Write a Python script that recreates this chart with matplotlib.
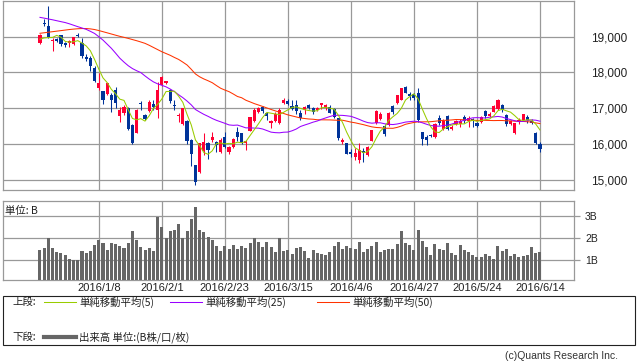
import numpy as np
import matplotlib
matplotlib.use('Agg')
import matplotlib.pyplot as plt
from matplotlib.patches import Rectangle

plt.rcParams['font.family'] = ['Noto Sans CJK JP', 'DejaVu Sans']

# trading days shown, per month
month_days = [
    ('2015/12', [16, 17, 18, 21, 22, 24, 25, 28, 29, 30]),
    ('2016/1', [4, 5, 6, 7, 8, 12, 13, 14, 15, 18, 19, 20, 21, 22, 25, 26, 27, 28, 29]),
    ('2016/2', [1, 2, 3, 4, 5, 8, 9, 10, 12, 15, 16, 17, 18, 19, 22, 23, 24, 25, 26, 29]),
    ('2016/3', [1, 2, 3, 4, 7, 8, 9, 10, 11, 14, 15, 16, 17, 18, 22, 23, 24, 25, 28, 29, 30, 31]),
    ('2016/4', [1, 4, 5, 6, 7, 8, 11, 12, 13, 14, 15, 18, 19, 20, 21, 22, 25, 26, 27, 28]),
    ('2016/5', [2, 6, 9, 10, 11, 12, 13, 16, 17, 18, 19, 20, 23, 24, 25, 26, 27, 30, 31]),
    ('2016/6', [1, 2, 3, 6, 7, 8, 9, 10, 13, 14]),
]
dates = [m + '/' + str(d) for m, days in month_days for d in days]

opens = [18830, 19390, 19300, 18880, 18930, 19050, 18830, 18810, 18800, 19060,
         18818, 18420, 18410, 18130, 17562, 17470, 17390, 17370, 17510, 16784,
         16860, 17017, 16520, 16319, 17160, 16810, 16930, 17110, 16960, 17650,
         17695, 17510, 17090, 16790, 16560, 16650, 16110, 15420, 15230, 15810,
         16020, 16110, 16060, 15790, 16200, 15790, 15930, 16330, 16300, 16020,
         16375, 16650, 16900, 17030, 16870, 16580, 16650, 16600, 17140, 17200,
         17060, 17090, 16880, 16950, 17090, 17020, 16950, 17090, 17010, 17050,
         16980, 16720, 16060, 16030, 15790, 15650, 15560, 15800, 15700, 16100,
         16580, 16690, 16500, 16530, 17060, 17140, 17240, 17590, 17400, 17390,
         17420, 16330, 16210, 16250, 16190, 16720, 16430, 16780, 16410, 16560,
         16560, 16760, 16640, 16700, 16600, 16620, 16930, 16790, 16905, 16970,
         17090, 16810, 16560, 16320, 16650, 16680, 16760, 16650, 16320, 16000]
highs = [19070, 19490, 19869, 18950, 18960, 19060, 18860, 18900, 18990, 19110,
         18951, 18510, 18470, 18170, 17975, 17480, 17720, 17420, 17600, 17050,
         17090, 17030, 16560, 16990, 17200, 16830, 17230, 17230, 17740, 17905,
         17760, 17540, 17230, 16870, 17010, 16680, 16140, 15430, 16030, 16300,
         16070, 16330, 16100, 16160, 16330, 15960, 16180, 16470, 16310, 16110,
         16760, 17000, 17040, 17060, 16900, 16680, 16900, 17000, 17290, 17250,
         17230, 17230, 16950, 17060, 17120, 17040, 17050, 17160, 17120, 17080,
         17000, 16740, 16180, 16040, 15860, 15900, 16030, 15900, 15940, 16390,
         16940, 16890, 16570, 16890, 17100, 17370, 17580, 17610, 17450, 17420,
         17570, 16350, 16260, 16290, 16600, 16820, 16700, 16810, 16530, 16670,
         16700, 16810, 16780, 16740, 16620, 16790, 16960, 16900, 17080, 17250,
         17110, 16830, 16680, 16600, 16720, 16850, 16800, 16700, 16340, 16050]
lows = [18800, 19290, 18950, 18610, 18850, 18740, 18700, 18720, 18770, 18990,
        18394, 18330, 18050, 17740, 17509, 17110, 17380, 16905, 17000, 16630,
        16810, 16390, 15990, 16300, 16950, 16680, 16900, 16960, 16720, 17620,
        17690, 17150, 16960, 16620, 16540, 16000, 15400, 14865, 15200, 15700,
        15580, 16060, 15770, 15760, 15880, 15720, 15880, 16100, 16000, 15830,
        16370, 16620, 16880, 16860, 16680, 16460, 16630, 16570, 17130, 17080,
        16950, 16850, 16660, 16850, 16980, 16850, 16920, 16990, 16940, 16860,
        16740, 16110, 16000, 15710, 15640, 15550, 15460, 15510, 15680, 16090,
        16560, 16660, 16240, 16510, 16850, 17120, 17220, 17420, 17240, 17230,
        16620, 15980, 15980, 16190, 16160, 16530, 16400, 16380, 16380, 16530,
        16480, 16600, 16470, 16480, 16480, 16600, 16719, 16750, 16890, 16960,
        16900, 16500, 16540, 16280, 16560, 16660, 16600, 16560, 15990, 15780]
closes = [19049, 19353, 18986, 18916, 18886, 18789, 18769, 18873, 18982, 19033,
          18450, 18374, 18191, 17767, 17697, 17218, 17715, 17240, 17147, 16955,
          17048, 16416, 16017, 16958, 17110, 16708, 17163, 17041, 17518, 17865,
          17750, 17191, 17067, 16819, 17004, 16085, 15713, 14952, 16022, 16054,
          15836, 16196, 15967, 16111, 15915, 15916, 16140, 16188, 16027, 16085,
          16747, 16960, 17015, 16912, 16784, 16643, 16852, 16939, 17234, 17117,
          16975, 16937, 16725, 17049, 17001, 16892, 17003, 17135, 17103, 16879,
          16759, 16164, 16123, 15733, 15715, 15750, 15822, 15751, 15928, 16381,
          16912, 16849, 16276, 16875, 16906, 17364, 17573, 17440, 17353, 17290,
          16666, 16147, 16106, 16216, 16565, 16580, 16646, 16412, 16466, 16652,
          16644, 16646, 16736, 16654, 16498, 16757, 16772, 16834, 17068, 17234,
          16955, 16562, 16642, 16580, 16675, 16830, 16668, 16601, 16019, 15859]
# volume in billions of shares
volume = [1.46, 1.55, 2.02, 1.55, 1.35, 1.32, 1.23, 1.06, 1.00, 1.00,
          1.42, 1.32, 1.42, 1.69, 1.89, 1.78, 1.46, 1.78, 1.74, 1.62,
          1.55, 1.78, 2.31, 1.89, 1.60, 1.46, 1.55, 1.42, 2.94, 2.48,
          2.02, 2.31, 2.38, 2.62, 2.02, 2.31, 2.85, 3.40, 2.35, 2.26,
          2.06, 1.89, 1.65, 1.42, 1.65, 1.52, 1.69, 1.52, 1.65, 1.55,
          1.78, 2.02, 1.83, 1.60, 1.83, 1.60, 1.37, 2.02, 1.42, 1.46,
          1.28, 1.55, 1.57, 1.40, 1.09, 1.45, 1.32, 1.27, 1.23, 1.36,
          1.63, 1.81, 1.50, 1.63, 1.54, 1.50, 1.81, 1.36, 1.50, 1.63,
          1.81, 1.36, 1.45, 1.50, 1.50, 1.72, 2.31, 1.77, 1.68, 1.45,
          2.35, 1.86, 1.59, 1.23, 1.72, 1.50, 1.45, 1.77, 1.32, 1.23,
          1.68, 1.45, 1.36, 1.23, 1.14, 1.14, 1.27, 1.18, 1.05, 1.63,
          1.40, 1.50, 1.18, 1.27, 1.14, 1.18, 1.23, 1.59, 1.32, 1.36]

# moving average values for the first days (window reaches before the chart)
ma5_head = [18930, 18965, 18975, 18980]
ma25_head = [19540, 19518, 19495, 19472, 19446, 19420, 19395, 19360, 19320, 19280,
             19243, 19205, 19150, 19090, 19000, 18905, 18790, 18675, 18540, 18400,
             18290, 18190, 18110, 18050]
ma50_head = [19095, 19110, 19125, 19140, 19155, 19170, 19185, 19200, 19212, 19222,
             19228, 19228, 19218, 19200, 19172, 19140, 19108, 19075, 19042, 19010,
             18982, 18953, 18920, 18888, 18852, 18814, 18760, 18700, 18640, 18580,
             18530, 18480, 18420, 18365, 18290, 18210, 18090, 17960, 17880, 17820,
             17770, 17715, 17635, 17560, 17510, 17465, 17400, 17330, 17295]

tick_labels = ['2016/1/8', '2016/2/1', '2016/2/23', '2016/3/15',
               '2016/4/6', '2016/4/27', '2016/5/24', '2016/6/14']
price_ticks = [15000, 16000, 17000, 18000, 19000]
vol_ticks = [1, 2, 3]


def moving_average(values, n, head):
    v = np.asarray(values, dtype=float)
    roll = np.convolve(v, np.ones(n) / n, mode='valid')
    return np.concatenate([np.asarray(head, dtype=float), roll])


ma5 = moving_average(closes, 5, ma5_head)
ma25 = moving_average(closes, 25, ma25_head)
ma50 = moving_average(closes, 50, ma50_head)

x = np.arange(len(dates))
o = np.array(opens)
c = np.array(closes)
up = c >= o
col = np.where(up, '#ff0033', '#003399')
tick_pos = [dates.index(t) for t in tick_labels]

W, H = 638, 362
fig = plt.figure(figsize=(W / 100, H / 100), dpi=100)
grid_c = '#999999'
grid_w = 0.9
num_font = 'Liberation Sans'

ax = fig.add_axes([3 / W, 1 - 190 / H, 571 / W, 189 / H])
ax.set_xlim(-8.8, 127.1)
ax.set_ylim(14718, 19997)
ax.set_yticks(price_ticks)
ax.set_yticklabels([f'{p:,}' for p in price_ticks], fontfamily=num_font, fontsize=8.5)
ax.yaxis.tick_right()
ax.tick_params(axis='y', length=0, pad=12, colors='#222222')
ax.set_xticks(tick_pos)
ax.tick_params(axis='x', length=0, labelbottom=False)
ax.grid(True, color=grid_c, linewidth=grid_w)
ax.set_axisbelow(True)
for s in ax.spines.values():
    s.set_color(grid_c)
    s.set_linewidth(grid_w)

ax.vlines(x, lows, highs, colors=col, linewidth=0.75, zorder=2)
body = np.maximum(np.abs(c - o), 28)
ax.bar(x, body, bottom=np.minimum(o, c), width=0.75, color=col, linewidth=0, zorder=3)
ax.plot(x, ma50, color='#ff3300', linewidth=0.75, zorder=4)
ax.plot(x, ma25, color='#9900ff', linewidth=0.75, zorder=4)
ax.plot(x, ma5, color='#99cc00', linewidth=0.75, zorder=4)

av = fig.add_axes([3 / W, 1 - 280 / H, 571 / W, 79 / H])
av.set_xlim(-8.8, 127.1)
av.set_ylim(0.09, 3.68)
av.bar(x, volume, width=0.72, color='#666666', linewidth=0, zorder=3)
av.set_yticks(vol_ticks)
av.set_yticklabels([f'{v}B' for v in vol_ticks], fontfamily=num_font, fontsize=7.5)
av.yaxis.tick_right()
av.tick_params(axis='y', length=4, width=grid_w, pad=4, colors='#222222')
av.tick_params(axis='y', color=grid_c)
av.set_xticks(tick_pos)
av.set_xticklabels(tick_labels, fontfamily=num_font, fontsize=8)
av.tick_params(axis='x', length=0, pad=2, colors='#222222')
av.grid(True, color=grid_c, linewidth=grid_w)
av.set_axisbelow(True)
for s in av.spines.values():
    s.set_color(grid_c)
    s.set_linewidth(grid_w)
av.text(0.004, 0.88, '単位: B', transform=av.transAxes, fontsize=7.5,
        va='center', ha='left', color='#222222')

# legend box and footer, drawn in pixel coordinates
lg = fig.add_axes([0, 0, 1, 1])
lg.set_xlim(0, W)
lg.set_ylim(H, 0)
lg.axis('off')
lg.add_patch(Rectangle((3, 296), 632, 49, fill=False, edgecolor='#222222', linewidth=0.8))
lg.text(12, 302, '上段:', fontsize=7.5, va='center', color='#222222')
for x0, colr, label in [(44, '#99cc00', '単純移動平均(5)'),
                         (170, '#9900ff', '単純移動平均(25)'),
                         (317, '#ff3300', '単純移動平均(50)')]:
    lg.plot([x0, x0 + 32], [302, 302], color=colr, linewidth=0.75)
    lg.text(x0 + 35, 302, label, fontsize=7.5, va='center', color='#222222')
lg.text(12, 337, '下段:', fontsize=7.5, va='center', color='#222222')
lg.plot([44, 76], [337, 337], color='#666666', linewidth=3)
lg.text(79, 337, '出来高 単位:(B株/口/枚)', fontsize=7.5, va='center', color='#222222')
lg.text(618, 356, '(c)Quants Research Inc.', fontsize=7.5, va='center', ha='right',
        color='#333333', fontfamily=['Liberation Sans'])

fig.savefig('out.png', dpi=100)
